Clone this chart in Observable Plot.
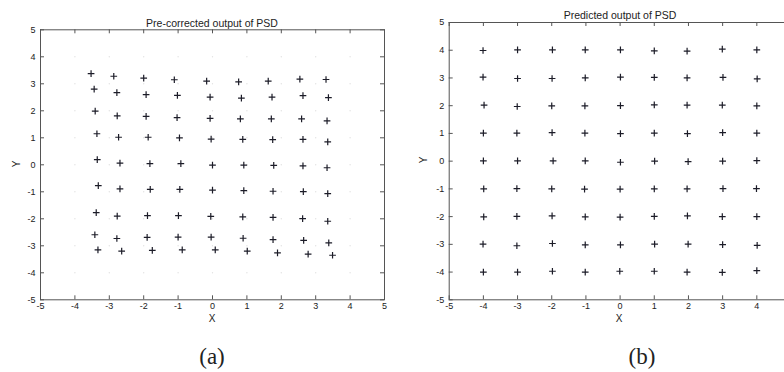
<!DOCTYPE html>
<html><head><meta charset="utf-8">
<script src="https://cdn.jsdelivr.net/npm/d3@7"></script>
<script src="https://cdn.jsdelivr.net/npm/@observablehq/plot@0.6"></script>
<style>
body{margin:0;background:#fff;overflow:hidden}
#wrap{position:relative;width:784px;height:372px;overflow:hidden;font-family:"Liberation Sans",Arial,sans-serif;color:#222}
.panel{position:absolute;top:0}
.t{position:absolute;white-space:nowrap;transform:translate(-50%,-50%);line-height:1}
.title{font-size:10.5px}
.axl{font-size:10px}
.cap{position:absolute;white-space:nowrap;transform:translateX(-50%);font-family:"Liberation Serif","Times New Roman",serif;font-size:23px;line-height:23px}
</style></head>
<body><div id="wrap"></div>
<script>
// Tick values shared by both panels
const ticks = [-5,-4,-3,-2,-1,0,1,2,3,4,5];
// x tick labels visible in panel (b) (its right end is cut off in the figure)
const ticksRightVisible = [-5,-4,-3,-2,-1,0,1,2,3,4];
const gridVals = [-4,-3,-2,-1,0,1,2,3,4];

// (a) Pre-corrected output of PSD, row by row (top to bottom)
const preX = [
  -3.53,-2.87,-2.00,-1.11,-0.17,0.76,1.62,2.54,3.30,
  -3.44,-2.78,-1.93,-1.02,-0.07,0.84,1.73,2.63,3.37,
  -3.41,-2.77,-1.93,-1.03,-0.07,0.81,1.71,2.59,3.33,
  -3.36,-2.73,-1.87,-0.96,-0.04,0.88,1.75,2.63,3.35,
  -3.35,-2.69,-1.82,-0.92,0.00,0.91,1.78,2.63,3.33,
  -3.32,-2.69,-1.81,-0.95,0.00,0.91,1.76,2.64,3.35,
  -3.38,-2.77,-1.89,-0.99,-0.05,0.88,1.76,2.62,3.35,
  -3.42,-2.78,-1.90,-1.00,-0.04,0.89,1.76,2.65,3.38,
  -3.33,-2.64,-1.75,-0.88,0.08,1.01,1.89,2.78,3.49
];
const preY = [
  3.38,3.28,3.21,3.15,3.10,3.07,3.10,3.17,3.16,
  2.80,2.67,2.60,2.57,2.51,2.47,2.51,2.56,2.49,
  1.99,1.81,1.79,1.75,1.72,1.70,1.70,1.70,1.63,
  1.15,1.02,1.02,1.00,0.95,0.94,0.93,0.94,0.85,
  0.19,0.06,0.04,0.04,-0.01,-0.01,-0.02,-0.04,-0.11,
  -0.77,-0.89,-0.91,-0.91,-0.94,-0.96,-0.98,-0.99,-1.07,
  -1.77,-1.90,-1.88,-1.88,-1.91,-1.93,-1.95,-1.99,-2.09,
  -2.59,-2.73,-2.69,-2.68,-2.68,-2.72,-2.77,-2.80,-2.89,
  -3.15,-3.20,-3.17,-3.15,-3.15,-3.20,-3.26,-3.31,-3.35
];

// (b) Predicted output of PSD, row by row (top to bottom)
const predX = [
  -4.01,-3.00,-1.98,-1.02,0.01,1.00,1.96,2.99,4.00,
  -4.01,-3.00,-1.99,-1.02,0.01,1.00,1.96,3.01,4.01,
  -3.98,-3.01,-2.00,-1.03,0.01,1.00,1.96,2.99,4.00,
  -4.00,-3.02,-1.99,-1.03,0.01,1.00,1.97,3.00,4.00,
  -4.00,-3.00,-1.96,-1.02,0.01,1.01,1.99,3.00,4.00,
  -3.99,-3.02,-2.00,-1.04,0.00,1.00,1.96,3.01,3.99,
  -3.99,-3.02,-1.99,-1.02,0.00,1.00,1.97,2.99,4.00,
  -4.01,-3.02,-1.98,-1.02,0.01,1.01,1.99,3.00,4.01,
  -4.00,-3.00,-1.98,-1.02,-0.01,1.00,1.96,2.99,4.00
];
const predY = [
  3.99,4.01,4.01,4.01,4.01,3.98,3.97,4.04,4.01,
  3.03,2.98,2.98,3.00,3.03,3.02,3.00,3.02,2.97,
  2.02,1.97,1.99,1.99,2.00,2.03,2.02,2.02,1.99,
  1.01,1.01,1.03,1.01,0.99,1.01,0.99,1.03,1.01,
  0.01,0.01,0.01,0.01,-0.04,0.00,-0.02,0.00,0.02,
  -1.00,-0.99,-1.00,-1.01,-1.01,-1.00,-1.00,-0.99,-0.99,
  -2.01,-1.99,-1.97,-2.01,-2.02,-1.99,-1.97,-2.00,-2.00,
  -2.99,-3.05,-2.97,-3.02,-3.02,-2.99,-2.99,-3.01,-3.04,
  -4.00,-4.00,-3.97,-4.00,-3.97,-3.97,-4.00,-4.01,-3.95
];

const panels = [
  {left:0, width:392, ml:40, mr:8, mt:29.3, mb:30.7, xs:preX, ys:preY, xlabels:ticks,
   title:"Pre-corrected output of PSD", tx:212, ty:22.5, xlx:212, xly:319, ylx:17, yly:164, cap:"(a)", capx:212},
  {left:392, width:400, ml:56.7, mr:1.5, mt:22, mb:30.7, xs:predX, ys:predY, xlabels:ticksRightVisible,
   title:"Predicted output of PSD", tx:620, ty:15, xlx:619, xly:319, ylx:424, yly:160, cap:"(b)", capx:642}
];

const wrap = document.getElementById("wrap");
const H = 330;
const fmt = d => String(d);
for (const p of panels) {
  const pts = p.xs.map((x, i) => ({x, y: p.ys[i]}));
  const grid = gridVals.flatMap(gx => gridVals.map(gy => ({x: gx, y: gy})));
  const innerH = H - p.mt - p.mb;
  const innerW = p.width - p.ml - p.mr;
  const chart = Plot.plot({
    width: p.width, height: H,
    marginLeft: p.ml, marginRight: p.mr, marginTop: p.mt, marginBottom: p.mb,
    style: {fontFamily: '"Liberation Sans", Arial, sans-serif', fontSize: "9px", color: "#333", background: "transparent"},
    x: {domain: [-5, 5], label: null},
    y: {domain: [-5, 5], label: null},
    marks: [
      Plot.dot(grid, {x: "x", y: "y", r: 0.7, fill: "#e2e2e2"}),
      Plot.tickX(ticks, {x: d => d, stroke: "#555", insetTop: innerH - 4}),
      Plot.tickX(ticks, {x: d => d, stroke: "#555", insetBottom: innerH - 4}),
      Plot.tickY(ticks, {y: d => d, stroke: "#555", insetRight: innerW - 4}),
      Plot.tickY(ticks, {y: d => d, stroke: "#555", insetLeft: innerW - 4}),
      Plot.frame({stroke: "#555", strokeWidth: 1}),
      Plot.axisX(p.xlabels, {anchor: "bottom", tickSize: 0, tickPadding: 3, label: null, fill: "#222", tickFormat: fmt}),
      Plot.axisY(ticks, {anchor: "left", tickSize: 0, tickPadding: 5, label: null, fill: "#222", tickFormat: fmt}),
      Plot.dot(pts, {x: "x", y: "y", symbol: "plus", r: 2.3, stroke: "#1c1c28", strokeWidth: 1.2})
    ]
  });
  chart.classList.add("panel");
  chart.style.left = p.left + "px";
  wrap.appendChild(chart);

  const t = document.createElement("div");
  t.className = "t title"; t.textContent = p.title;
  t.style.left = p.tx + "px"; t.style.top = p.ty + "px";
  wrap.appendChild(t);

  const xl = document.createElement("div");
  xl.className = "t axl"; xl.textContent = "X";
  xl.style.left = p.xlx + "px"; xl.style.top = p.xly + "px";
  wrap.appendChild(xl);

  const yl = document.createElement("div");
  yl.className = "t axl"; yl.textContent = "Y";
  yl.style.left = p.ylx + "px"; yl.style.top = p.yly + "px";
  yl.style.transform = "translate(-50%,-50%) rotate(-90deg)";
  wrap.appendChild(yl);

  const c = document.createElement("div");
  c.className = "cap"; c.textContent = p.cap;
  c.style.left = p.capx + "px"; c.style.top = "345px";
  wrap.appendChild(c);
}
</script>
</body></html>
